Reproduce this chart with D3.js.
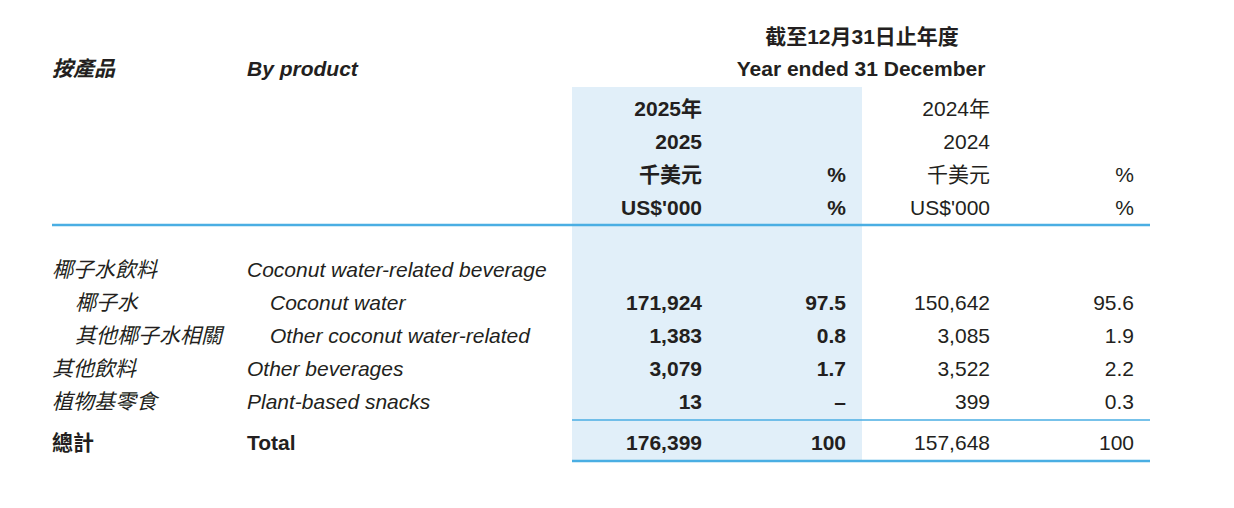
<!DOCTYPE html>
<html><head><meta charset="utf-8">
<script src="https://cdn.jsdelivr.net/npm/d3@7"></script>
<style>body{margin:0;background:#fff}text{font-family:"Liberation Sans",Arial,"Noto Sans CJK TC",sans-serif;font-size:21px;fill:#231f20}</style>
</head><body>
<script>
var labelsZh = ['椰子水飲料', '椰子水', '其他椰子水相關', '其他飲料', '植物基零食'];
var labelsEn = ['Coconut water-related beverage', 'Coconut water', 'Other coconut water-related', 'Other beverages', 'Plant-based snacks'];
var indent = [0, 1, 1, 0, 0];
var amount2025 = [null, 171924, 1383, 3079, 13];
var pct2025 = [null, 97.5, 0.8, 1.7, null];
var amount2024 = [null, 150642, 3085, 3522, 399];
var pct2024 = [null, 95.6, 1.9, 2.2, 0.3];
var total = {zh: '總計', en: 'Total', a25: 176399, p25: 100, a24: 157648, p24: 100};
var headerRows = [['2025年', '', '2024年', ''], ['2025', '', '2024', ''], ['千美元', '%', '千美元', '%'], ["US$'000", '%', "US$'000", '%']];

(function() {
    var svg = d3.select('body').append('svg').attr('width', 1234).attr('height', 508);
    var blue = '#4aaee3';
    var colRight = [702, 846, 990, 1134];
    var fmt = d3.format(',');
    var rowY = d3.scaleLinear().domain([0, 1]).range([270, 303]);

    svg.append('rect').attr('x', 572).attr('y', 87).attr('width', 290).attr('height', 375).attr('fill', '#e1eff9');

    svg.append('text').attr('x', 862).attr('y', 44).attr('text-anchor', 'middle').style('font-weight', 'bold').text('截至12月31日止年度');
    svg.append('text').attr('x', 861).attr('y', 76).attr('text-anchor', 'middle').style('font-weight', 'bold').text('Year ended 31 December');
    svg.append('text').attr('x', 52).attr('y', 76).style('font-weight', 'bold').style('font-style', 'italic').text('按產品');
    svg.append('text').attr('x', 247).attr('y', 76).style('font-weight', 'bold').style('font-style', 'italic').text('By product');

    headerRows.forEach(function(row, i) {
        row.forEach(function(t, c) {
            svg.append('text').attr('x', colRight[c]).attr('y', 116 + i * 33)
                .attr('text-anchor', 'end').style('font-weight', c < 2 ? 'bold' : 'normal').text(t);
        });
    });

    svg.append('line').attr('x1', 52).attr('x2', 1150).attr('y1', 225).attr('y2', 225).attr('stroke', blue).attr('stroke-width', 2.5);

    labelsZh.forEach(function(zh, i) {
        var y = rowY(i) + 7;
        svg.append('text').attr('x', 52 + indent[i] * 23).attr('y', y).style('font-style', 'italic').text(zh);
        svg.append('text').attr('x', 247 + indent[i] * 23).attr('y', y).style('font-style', 'italic').text(labelsEn[i]);
        var vals = [amount2025[i], pct2025[i], amount2024[i], pct2024[i]];
        if (amount2025[i] === null) return;
        vals.forEach(function(v, c) {
            var t = v === null ? '–' : (c % 2 === 0 ? fmt(v) : v.toFixed(1));
            svg.append('text').attr('x', colRight[c]).attr('y', y).attr('text-anchor', 'end')
                .style('font-weight', c < 2 ? 'bold' : 'normal').text(t);
        });
    });

    svg.append('line').attr('x1', 572).attr('x2', 1150).attr('y1', 420).attr('y2', 420).attr('stroke', blue).attr('stroke-width', 1.5);
    var ty = 450;
    svg.append('text').attr('x', 52).attr('y', ty).style('font-weight', 'bold').text(total.zh);
    svg.append('text').attr('x', 247).attr('y', ty).style('font-weight', 'bold').text(total.en);
    [fmt(total.a25), total.p25, fmt(total.a24), total.p24].forEach(function(t, c) {
        svg.append('text').attr('x', colRight[c]).attr('y', ty).attr('text-anchor', 'end')
            .style('font-weight', c < 2 ? 'bold' : 'normal').text(t);
    });
    svg.append('line').attr('x1', 572).attr('x2', 1150).attr('y1', 461).attr('y2', 461).attr('stroke', blue).attr('stroke-width', 2.5);
})();
</script>
</body></html>
